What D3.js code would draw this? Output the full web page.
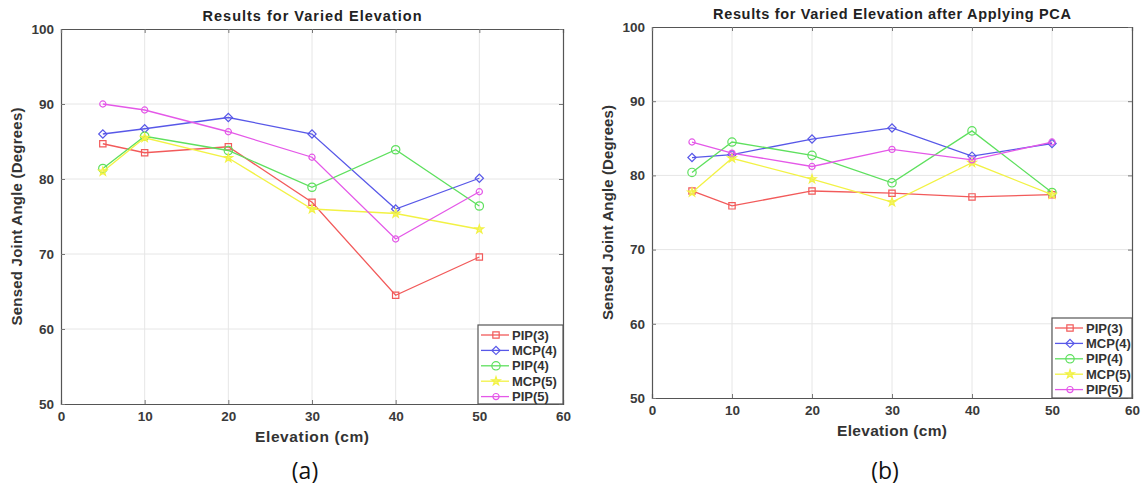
<!DOCTYPE html>
<html><head><meta charset="utf-8">
<script src="https://cdn.jsdelivr.net/npm/d3@7"></script>
<style>body{margin:0;background:#fff;}svg{display:block;}</style>
</head><body>
<svg id="c" width="1144" height="489"></svg>
<script>
const elevations = [5, 10, 20, 30, 40, 50];
const seriesNames = ["PIP(3)", "MCP(4)", "PIP(4)", "MCP(5)", "PIP(5)"];
const xTicks = [0, 10, 20, 30, 40, 50, 60];
const yTicks = [50, 60, 70, 80, 90, 100];

// Panel (a): Results for Varied Elevation
const a_PIP3 = [84.7, 83.5, 84.3, 76.9, 64.5, 69.6];
const a_MCP4 = [86.0, 86.7, 88.2, 86.0, 76.0, 80.1];
const a_PIP4 = [81.4, 85.7, 83.8, 78.9, 83.9, 76.4];
const a_MCP5 = [81.0, 85.5, 82.8, 76.0, 75.4, 73.3];
const a_PIP5 = [90.0, 89.2, 86.3, 82.9, 72.0, 78.3];

// Panel (b): after applying PCA
const b_PIP3 = [77.9, 75.9, 77.9, 77.6, 77.1, 77.4];
const b_MCP4 = [82.4, 82.8, 84.9, 86.4, 82.6, 84.3];
const b_PIP4 = [80.4, 84.5, 82.7, 79.0, 86.0, 77.7];
const b_MCP5 = [77.7, 82.3, 79.5, 76.4, 81.7, 77.4];
const b_PIP5 = [84.5, 83.0, 81.2, 83.5, 82.1, 84.5];

const colors = ["#f25a5a", "#5858e8", "#5ee05e", "#f2f244", "#e458e8"];
const markers = ["square", "diamond", "circle", "star", "smallcircle"];

const svg = d3.select("#c");
const FONT = "'Liberation Sans', Arial, sans-serif";

function drawMarker(g, type, x, y, color) {
  let sym, size, rot = 0;
  if (type === "square") { sym = d3.symbolSquare; size = 40; }
  else if (type === "diamond") { sym = d3.symbolSquare; size = 34; rot = 45; }
  else if (type === "circle") { sym = d3.symbolCircle; size = 55; }
  else if (type === "star") { sym = d3.symbolStar; size = 22; }
  else { sym = d3.symbolCircle; size = 30; }
  g.append("path")
    .attr("d", d3.symbol().type(sym).size(size)())
    .attr("transform", `translate(${x},${y}) rotate(${rot})`)
    .attr("fill", type === "star" ? color : "none")
    .attr("fill-opacity", type === "star" ? 0.6 : 1)
    .attr("stroke", color).attr("stroke-width", 1.2);
}

function panel(cfg) {
  const x = d3.scaleLinear().domain([0, 60]).range([cfg.left, cfg.right]);
  const y = d3.scaleLinear().domain([50, 100]).range([cfg.bottom, cfg.top]);
  const g = svg.append("g");

  // grid
  g.append("g").selectAll("line").data(xTicks.slice(1, -1)).join("line")
    .attr("x1", d => x(d)).attr("x2", d => x(d)).attr("y1", cfg.top).attr("y2", cfg.bottom)
    .attr("stroke", "#e6e6e6").attr("stroke-width", 1);
  g.append("g").selectAll("line").data(yTicks.slice(1, -1)).join("line")
    .attr("y1", d => y(d)).attr("y2", d => y(d)).attr("x1", cfg.left).attr("x2", cfg.right)
    .attr("stroke", "#e6e6e6").attr("stroke-width", 1);

  const xAxis = d3.axisBottom(x).tickValues(xTicks).tickSize(-4).tickPadding(7);
  const yAxis = d3.axisLeft(y).tickValues(yTicks).tickSize(-4).tickPadding(7);
  const xa = g.append("g").attr("transform", `translate(0,${cfg.bottom})`).call(xAxis);
  const ya = g.append("g").attr("transform", `translate(${cfg.left},0)`).call(yAxis);
  const xt = g.append("g").attr("transform", `translate(0,${cfg.top})`).call(d3.axisTop(x).tickValues(xTicks).tickSize(-4).tickFormat(""));
  const yr = g.append("g").attr("transform", `translate(${cfg.right},0)`).call(d3.axisRight(y).tickValues(yTicks).tickSize(-4).tickFormat(""));
  [xa, ya, xt, yr].forEach(a => {
    a.select(".domain").attr("stroke", "#555").attr("stroke-width", 1.2);
    a.selectAll(".tick line").attr("stroke", "#777");
    a.selectAll("text").attr("font-family", FONT).attr("font-weight", "bold")
      .attr("font-size", 13.5).attr("fill", "#3a3a3a");
  });

  cfg.series.forEach((vals, i) => {
    const pts = elevations.map((e, k) => [x(e), y(vals[k])]);
    g.append("path").attr("d", d3.line()(pts)).attr("fill", "none")
      .attr("stroke", colors[i]).attr("stroke-width", 1.3);
    pts.forEach(p => drawMarker(g, markers[i], p[0], p[1], colors[i]));
  });

  g.append("text").attr("x", (cfg.left + cfg.right) / 2).attr("y", cfg.top - 8)
    .attr("text-anchor", "middle").attr("font-family", FONT).attr("font-weight", "bold")
    .attr("font-size", 14.5).attr("fill", "#222")
    .attr("textLength", cfg.titleLen).attr("lengthAdjust", "spacing").text(cfg.title);
  g.append("text").attr("x", (cfg.left + cfg.right) / 2).attr("y", cfg.bottom + 38)
    .attr("text-anchor", "middle").attr("font-family", FONT).attr("font-weight", "bold")
    .attr("font-size", 15.5).attr("fill", "#333")
    .attr("textLength", cfg.xlabLen).attr("lengthAdjust", "spacing").text("Elevation (cm)");
  g.append("text").attr("transform", `translate(${cfg.ylabX},${(cfg.top + cfg.bottom) / 2}) rotate(-90)`)
    .attr("text-anchor", "middle").attr("font-family", FONT).attr("font-weight", "bold")
    .attr("font-size", 15).attr("fill", "#333")
    .attr("textLength", cfg.ylabLen).attr("lengthAdjust", "spacing").text("Sensed Joint Angle (Degrees)");
  g.append("text").attr("x", (cfg.left + cfg.right) / 2 - 7).attr("y", 479)
    .attr("text-anchor", "middle").attr("font-family", "'Open Sans', sans-serif")
    .attr("font-size", 23).attr("fill", "#111").text(cfg.caption);

  const lg = g.append("g");
  lg.append("rect").attr("x", cfg.legX).attr("y", cfg.legY).attr("width", cfg.right - cfg.legX)
    .attr("height", cfg.bottom - cfg.legY).attr("fill", "#fff").attr("stroke", "#555").attr("stroke-width", 1.2);
  seriesNames.forEach((name, i) => {
    const yy = cfg.legY + 10 + i * 15.4;
    lg.append("line").attr("x1", cfg.legX + 3).attr("x2", cfg.legX + 31).attr("y1", yy).attr("y2", yy)
      .attr("stroke", colors[i]).attr("stroke-width", 1.3);
    drawMarker(lg, markers[i], cfg.legX + 18, yy, colors[i]);
    lg.append("text").attr("x", cfg.legX + 34).attr("y", yy + 4.5).attr("font-family", FONT)
      .attr("font-weight", "bold").attr("font-size", 13).attr("fill", "#333").text(name);
  });
}

panel({left: 61, right: 563, top: 29, bottom: 404, ylabX: 22, legX: 478, legY: 325,
  title: "Results for Varied Elevation", caption: "(a)", titleLen: 219, xlabLen: 114, ylabLen: 218,
  series: [a_PIP3, a_MCP4, a_PIP4, a_MCP5, a_PIP5]});
panel({left: 652, right: 1132, top: 27, bottom: 398, ylabX: 613, legX: 1052, legY: 318,
  title: "Results for Varied Elevation after Applying PCA", caption: "(b)", titleLen: 358, xlabLen: 110, ylabLen: 215,
  series: [b_PIP3, b_MCP4, b_PIP4, b_MCP5, b_PIP5]});
</script>
</body></html>
